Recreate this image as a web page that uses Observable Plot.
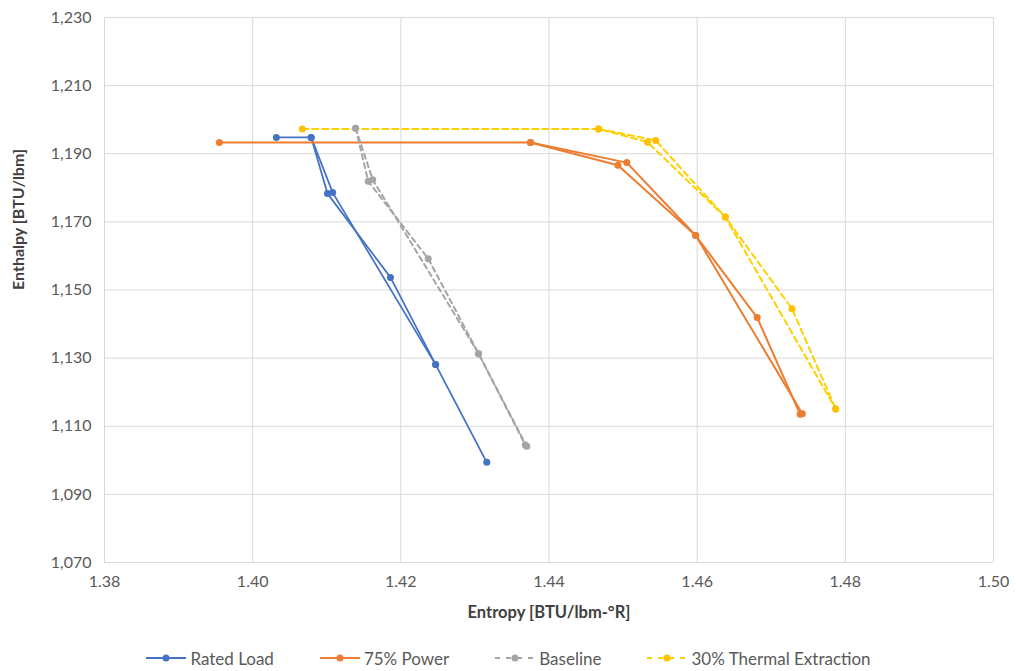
<!DOCTYPE html>
<html>
<head>
<meta charset="utf-8">
<script src="https://cdn.jsdelivr.net/npm/d3@7"></script>
<script src="https://cdn.jsdelivr.net/npm/@observablehq/plot@0.6"></script>
<style>
  body { margin: 0; background: #fff; font-family: Lato, "Open Sans", sans-serif; }
  #chart svg { display: block; }
  #legend { display: flex; justify-content: center; align-items: center; gap: 45px; height: 36px; font-size: 17px; color: #595959; font-family: Lato, "Open Sans", sans-serif; }
  .item { display: flex; align-items: center; gap: 3px; }
</style>
</head>
<body>
<div id="chart"></div>
<div id="legend"></div>
<script>
// ---- data ----
const seriesNames = ["Rated Load", "75% Power", "Baseline", "30% Thermal Extraction"];
const seriesColors = ["#4472C4", "#ED7D31", "#A5A5A5", "#FFC000"];
const lineColors = ["#4472C4", "#ED7D31", "#A5A5A5", "#FFD000"];
const seriesDash = [null, null, "5,4", "6,4"];

const xTicks = [1.38, 1.40, 1.42, 1.44, 1.46, 1.48, 1.50];
const yTicks = [1070, 1090, 1110, 1130, 1150, 1170, 1190, 1210, 1230];

// Rated Load (two traced passes: path 1 and path 2)
const ratedPath     = [1, 1, 1, 1, 1, 1, 2, 2, 2];
const ratedEntropy  = [1.4032, 1.4079, 1.4101, 1.4186, 1.4247, 1.4316, 1.4079, 1.4108, 1.4247];
const ratedEnthalpy = [1194.8, 1194.8, 1178.3, 1153.7, 1128.1, 1099.4, 1194.8, 1178.6, 1128.1];

// 75% Power
const powerPath     = [1, 1, 1, 1, 1, 1, 2, 2, 2, 2];
const powerEntropy  = [1.3955, 1.4375, 1.4493, 1.4598, 1.4681, 1.4739, 1.4375, 1.4505, 1.4598, 1.4742];
const powerEnthalpy = [1193.3, 1193.3, 1186.6, 1166.0, 1141.9, 1113.5, 1193.3, 1187.4, 1166.0, 1113.7];

// Baseline
const basePath     = [1, 1, 1, 1, 1, 2, 2, 2, 2];
const baseEntropy  = [1.4139, 1.4156, 1.4237, 1.4305, 1.4370, 1.4139, 1.4162, 1.4305, 1.4368];
const baseEnthalpy = [1197.5, 1181.9, 1159.2, 1131.3, 1104.1, 1197.5, 1182.4, 1131.3, 1104.5];

// 30% Thermal Extraction
const thermPath     = [1, 1, 1, 1, 1, 1, 2, 2, 2, 2];
const thermEntropy  = [1.4067, 1.4467, 1.4533, 1.4638, 1.4728, 1.4787, 1.4467, 1.4544, 1.4638, 1.4787];
const thermEnthalpy = [1197.3, 1197.3, 1193.4, 1171.4, 1144.5, 1115.1, 1197.3, 1193.9, 1171.4, 1115.1];

// ---- build table ----
const raw = [
  [ratedPath, ratedEntropy, ratedEnthalpy],
  [powerPath, powerEntropy, powerEnthalpy],
  [basePath, baseEntropy, baseEnthalpy],
  [thermPath, thermEntropy, thermEnthalpy]
];
const seriesRows = raw.map(([p, s, h], i) =>
  s.map((v, j) => ({ series: seriesNames[i], key: seriesNames[i] + "-" + p[j], s: v, h: h[j] }))
);

const marks = [
  Plot.gridX(xTicks, { stroke: "#d9d9d9", strokeOpacity: 1, strokeWidth: 1 }),
  Plot.gridY(yTicks, { stroke: "#d9d9d9", strokeOpacity: 1, strokeWidth: 1 }),
  Plot.axisX(xTicks, { tickSize: 0, tickPadding: 13, tickFormat: d3.format(".2f"), label: null, fontSize: 16, fill: "#595959" }),
  Plot.axisY(yTicks, { tickSize: 0, tickPadding: 13, tickFormat: d3.format(","), label: null, fontSize: 16, fill: "#595959" })
];
seriesRows.forEach((rows, i) => {
  marks.push(Plot.line(rows, {
    x: "s", y: "h", z: "key", stroke: lineColors[i], strokeWidth: i === 0 ? 1.75 : 2,
    strokeDasharray: seriesDash[i] || undefined, curve: "linear"
  }));
});
seriesRows.forEach((rows, i) => {
  marks.push(Plot.dot(rows, { x: "s", y: "h", r: 3.5, fill: seriesColors[i], stroke: "none" }));
});
marks.push(Plot.text(["Entropy [BTU/lbm-°R]"], { frameAnchor: "bottom", dy: 55, fontSize: 16.5, fontWeight: "bold", fill: "#404040" }));
marks.push(Plot.text(["Enthalpy [BTU/lbm]"], { frameAnchor: "left", dx: -86, rotate: -90, fontSize: 16, fontWeight: "bold", fill: "#404040" }));

const chart = Plot.plot({
  width: 1016,
  height: 640,
  marginLeft: 104,
  marginRight: 23,
  marginTop: 17,
  marginBottom: 78,
  style: { fontFamily: "Lato, 'Open Sans', sans-serif", background: "#fff" },
  x: { domain: [1.38, 1.50] },
  y: { domain: [1070, 1230] },
  marks
});
document.getElementById("chart").appendChild(chart);

// ---- legend ----
const legend = document.getElementById("legend");
seriesNames.forEach((name, i) => {
  const item = document.createElement("div");
  item.className = "item";
  const dash = seriesDash[i] ? `stroke-dasharray="5,6"` : "";
  item.innerHTML = `<svg width="42" height="12"><line x1="1" y1="6" x2="41" y2="6" stroke="${lineColors[i]}" stroke-width="2" ${dash}/><circle cx="21" cy="6" r="3.5" fill="${seriesColors[i]}"/></svg><span>${name}</span>`;
  legend.appendChild(item);
});
</script>
</body>
</html>
